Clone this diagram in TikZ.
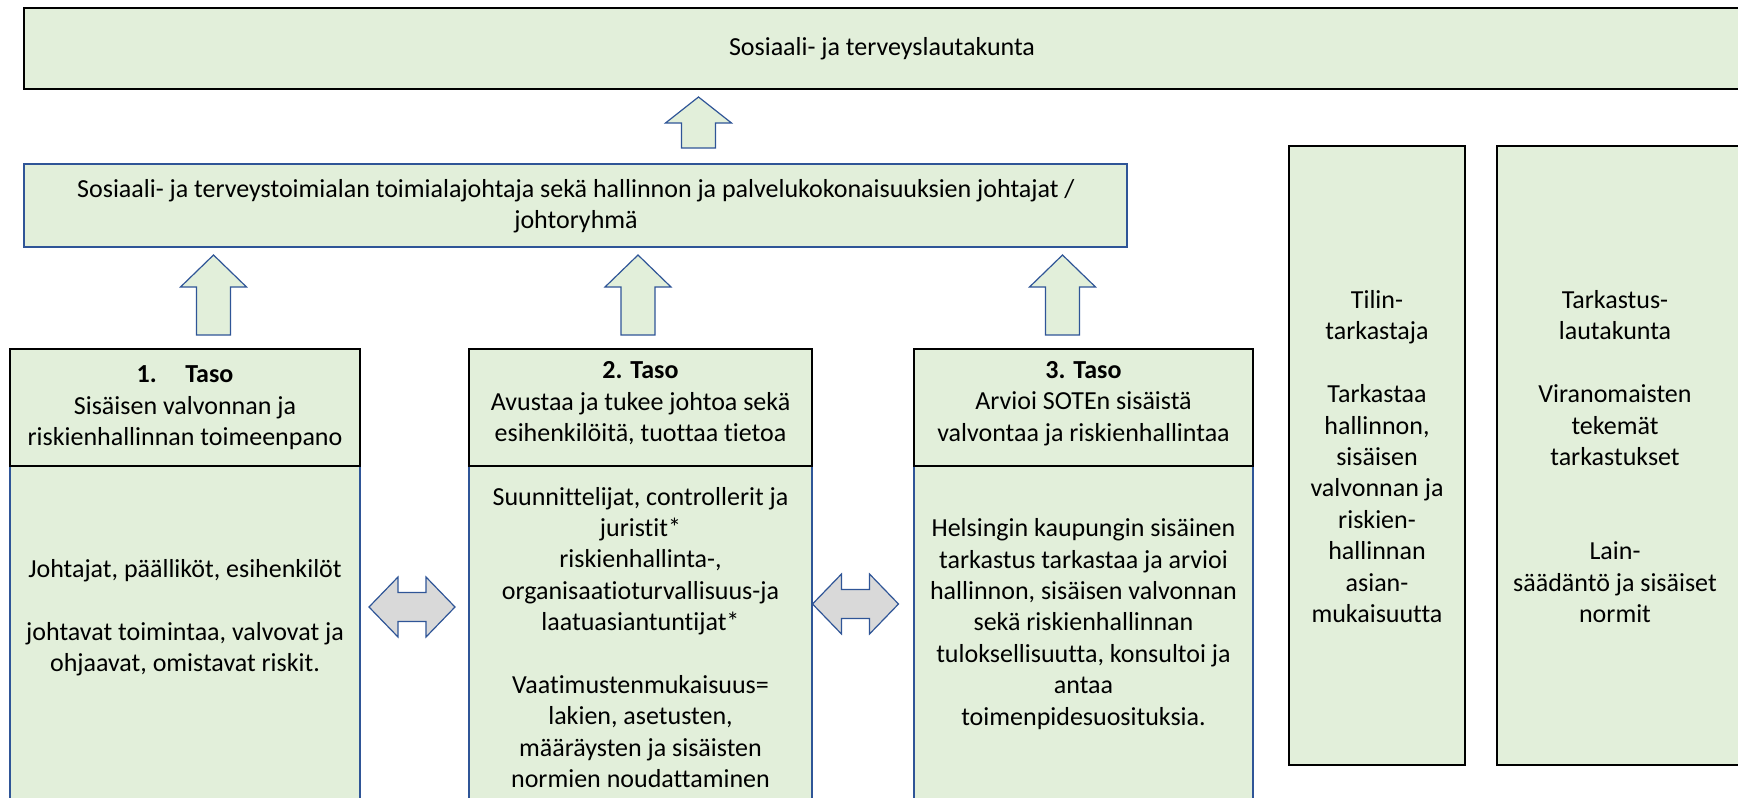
\documentclass[tikz,border=0pt]{standalone}
\usepackage{fontspec}
\setmainfont{Carlito}[Ligatures=NoCommon]
\definecolor{boxgreen}{RGB}{226,239,218}
\definecolor{boxblue}{RGB}{47,85,151}
\definecolor{arrowgray}{RGB}{217,217,217}

\begin{document}
\begin{tikzpicture}[x=1pt,y=-1pt,
	blackbox/.style={draw=black,line width=1.5pt,fill=boxgreen},
	bluebox/.style={draw=boxblue,line width=1.2pt,fill=boxgreen},
	label/.style={align=center,inner sep=0pt,font=\fontsize{26}{31.4}\selectfont},
	uparr/.style={draw=boxblue,line width=1.2pt,fill=boxgreen},
	sidearr/.style={draw=boxblue,line width=1.2pt,fill=arrowgray}]
	\useasboundingbox (0,0) rectangle (1738,798);
	\draw[blackbox] (24,8) rectangle (1760,89);
	\node (lautakunta) at (882,48.5)[label]{Sosiaali- ja terveyslautakunta};
	\draw[bluebox] (24,164) rectangle (1127,247);
	\node (johto) at (576,206)[label]{Sosiaali- ja terveystoimialan toimialajohtaja sekä hallinnon ja palvelukokonaisuuksien johtajat /\\johtoryhmä};
	\foreach \cx/\ty/\by/\ey in {698.5/97/123/148, 213.5/255/287/335, 638/255/287/335, 1062.5/255/287/335}
		\draw[uparr] (\cx,\ty) -- (\cx+33,\by) -- (\cx+17,\by) -- (\cx+17,\ey) -- (\cx-17,\ey) -- (\cx-17,\by) -- (\cx-33,\by) -- cycle;
	\foreach \xa/\xb in {10/360, 469/812, 914/1253} {
		\draw[bluebox] (\xa,466) rectangle (\xb,820);
		\draw[blackbox] (\xa,349) rectangle (\xb,466);
	}
	\node (taso1) at (185,408)[label]{\textbf{1.\hspace{1.1em}Taso}\\Sisäisen valvonnan ja\\riskienhallinnan toimeenpano};
	\node (taso2) at (640.5,403.5)[label]{\textbf{2. Taso}\\Avustaa ja tukee johtoa sekä\\esihenkilöitä, tuottaa tietoa};
	\node (taso3) at (1083.5,403.5)[label]{\textbf{3. Taso}\\Arvioi SOTEn sisäistä\\valvontaa ja riskienhallintaa};
	\node (toimeenpano) at (185,618)[label]{Johtajat, päälliköt, esihenkilöt\\[31.4pt]johtavat toimintaa, valvovat ja\\ohjaavat, omistavat riskit.};
	\node (tuki) at (640.5,637.5)[label]{Suunnittelijat, controllerit ja\\juristit*\\riskienhallinta-,\\organisaatioturvallisuus-ja\\laatuasiantuntijat*\\[31.4pt]Vaatimustenmukaisuus=\\lakien, asetusten,\\määräysten ja sisäisten\\normien noudattaminen};
	\node (arviointi) at (1083.5,624)[label]{Helsingin kaupungin sisäinen\\tarkastus tarkastaa ja arvioi\\hallinnon, sisäisen valvonnan\\sekä riskienhallinnan\\tuloksellisuutta, konsultoi ja\\antaa\\toimenpidesuosituksia.};
	\foreach \cx/\cy in {412/607, 855.5/604}
		\draw[sidearr] (\cx-43,\cy) -- (\cx-14,\cy-30) -- (\cx-14,\cy-14.5) -- (\cx+14,\cy-14.5) -- (\cx+14,\cy-30) -- (\cx+43,\cy) -- (\cx+14,\cy+30) -- (\cx+14,\cy+14.5) -- (\cx-14,\cy+14.5) -- (\cx-14,\cy+30) -- cycle;
	\draw[blackbox] (1289,146) rectangle (1465,765);
	\draw[blackbox] (1497,146) rectangle (1760,765);
	\node (tilintarkastaja) at (1377,456.5)[label]{Tilin-\\tarkastaja\\[31.4pt]Tarkastaa\\hallinnon,\\sisäisen\\valvonnan ja\\riskien-\\hallinnan\\asian-\\mukaisuutta};
	\node (tarkastuslautakunta) at (1615,456.5)[label]{Tarkastus-\\lautakunta\\[31.4pt]Viranomaisten\\tekemät\\tarkastukset\\[62.8pt]Lain-\\säädäntö ja sisäiset\\normit};
\end{tikzpicture}
\end{document}
